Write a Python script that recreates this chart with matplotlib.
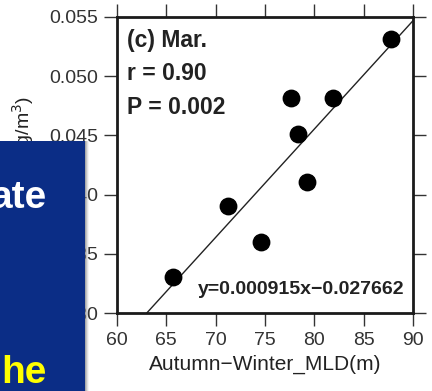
import numpy as np
import matplotlib
matplotlib.use('Agg')
import matplotlib.pyplot as plt
from matplotlib.patches import Rectangle

plt.rcParams['font.family'] = ['Liberation Sans', 'DejaVu Sans']

# данные (MLD, Chl-a)
mld = [65.7, 71.3, 74.6, 77.6, 78.3, 79.3, 81.9, 87.8]
chl = [0.0330, 0.0390, 0.0360, 0.0482, 0.0451, 0.0411, 0.0482, 0.0531]
slope = 0.000915
intercept = -0.027662

fig = plt.figure(figsize=(4.32, 3.91), dpi=100)
ax = fig.add_axes([117/432, 1 - 313/391, 296/432, 296/391])

# линия регрессии
xl = np.array([60, 90])
ax.plot(xl, slope * xl + intercept, color='#222222', lw=1.0, zorder=2)
ax.scatter(mld, chl, s=140, color='black', zorder=3)

ax.set_xlim(60, 90)
ax.set_ylim(0.030, 0.055)
ax.set_xticks(range(60, 91, 5))
ax.set_yticks([0.030, 0.035, 0.040, 0.045, 0.050, 0.055])
ax.set_yticklabels(['0.030', '0.035', '0.040', '0.045', '0.050', '0.055'])
ax.tick_params(direction='out', length=9.5, width=1, color='#333333', labelcolor='#333333',
               labelsize=14, top=True, right=True, pad=4)
for s in ax.spines.values():
    s.set_linewidth(2)
    s.set_color('#1a1a1a')

ax.set_xlabel('Autumn\u2212Winter_MLD(m)', fontsize=15, color='#222222', labelpad=4)
fig.text(23/432, 1 - 96/391, 'Chl-a (mg/m$^3$)', rotation=90, va='top', ha='center',
         fontsize=14, color='#222222')

ax.text(0.035, 0.92, '(c) Mar.', transform=ax.transAxes, fontsize=16.5, fontweight='bold',
        color='#222222', va='center')
ax.text(0.035, 0.808, 'r = 0.90', transform=ax.transAxes, fontsize=16.5, fontweight='bold',
        color='#222222', va='center')
ax.text(0.035, 0.695, 'P = 0.002', transform=ax.transAxes, fontsize=16.5, fontweight='bold',
        color='#222222', va='center')
ax.text(0.97, 0.078, 'y=0.000915x\u22120.027662', transform=ax.transAxes, fontsize=14,
        fontweight='bold', color='#222222', ha='right', va='center')

# синий блок поверх графика, с мягкой тенью
for i, a in enumerate([0.35, 0.25, 0.15, 0.08]):
    fig.patches.append(Rectangle((0, 0), (86 + i) / 432, 1 - 141/391, transform=fig.transFigure,
                                 color='#777777', alpha=a, lw=0, zorder=10))
fig.patches.append(Rectangle((0, 0), 85/432, 1 - 141/391, transform=fig.transFigure,
                             color='#0b2d86', lw=0, zorder=11))
fig.text(47/432, 1 - 208/391, 'ate', color='white', fontsize=28, fontweight='bold',
         ha='right', va='baseline', zorder=12)
fig.text(47/432, 1 - 383/391, 'he', color='#ffff00', fontsize=28, fontweight='bold',
         ha='right', va='baseline', zorder=12)

fig.savefig('out.png', dpi=100)
